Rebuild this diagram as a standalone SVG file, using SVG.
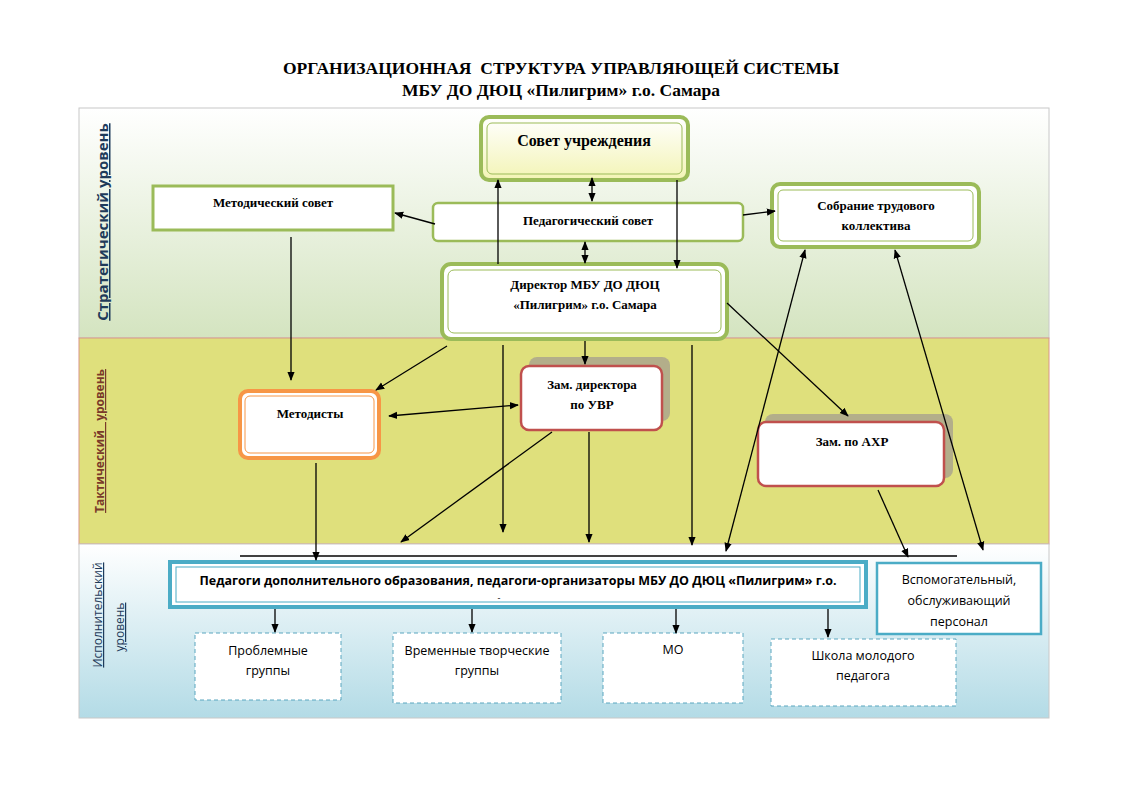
<svg xmlns="http://www.w3.org/2000/svg" width="1123" height="794" viewBox="0 0 1123 794">
<style>
.t{font-family:"Liberation Serif",serif;font-weight:bold;font-size:13px;text-anchor:middle;fill:#000}
.s{font-family:"Open Sans","Liberation Sans",sans-serif;font-size:12.5px;text-anchor:middle;fill:#000}
.c{stroke:#000;stroke-width:1.3;fill:none}
.dash{fill:#fff;stroke:#5aa6bf;stroke-width:1;stroke-dasharray:4 3}
</style>
<defs>
<linearGradient id="gs" x1="0" y1="0" x2="0" y2="1"><stop offset="0" stop-color="#ffffff"/><stop offset="1" stop-color="#d4e4c0"/></linearGradient>
<linearGradient id="ge" x1="0" y1="0" x2="0" y2="1"><stop offset="0" stop-color="#ffffff"/><stop offset="1" stop-color="#b3dbe6"/></linearGradient>
<linearGradient id="gy" x1="0" y1="0" x2="0" y2="1"><stop offset="0" stop-color="#ffffff"/><stop offset="1" stop-color="#f3f4b5"/></linearGradient>
<marker id="a" viewBox="0 0 10 10" refX="9" refY="5" markerWidth="7" markerHeight="7" orient="auto-start-reverse"><path d="M0,1 L10,5 L0,9 z" fill="#000"/></marker>
</defs>
<rect width="1123" height="794" fill="#fff"/>
<text x="561" y="74" font-family="Liberation Serif,serif" font-weight="bold" font-size="17.5" text-anchor="middle" xml:space="preserve">ОРГАНИЗАЦИОННАЯ  СТРУКТУРА УПРАВЛЯЮЩЕЙ СИСТЕМЫ</text>
<text x="561" y="96" font-family="Liberation Serif,serif" font-weight="bold" font-size="17.5" text-anchor="middle">МБУ ДО ДЮЦ «Пилигрим» г.о. Самара</text>
<g id="bands">
<rect x="79" y="108" width="970" height="230" fill="url(#gs)" stroke="#c8c8c8"/>
<rect x="79" y="338" width="970" height="206" fill="#dfe07c" stroke="#d9968a"/>
<rect x="79" y="544" width="970" height="174" fill="url(#ge)" stroke="#c8c8c8"/>
<text transform="translate(108,222) rotate(-90)" font-family="Open Sans,Liberation Sans,sans-serif" font-size="15" font-weight="bold" fill="#1f3b5a" text-anchor="middle" text-decoration="underline">Стратегический уровень</text>
<text transform="translate(104,441) rotate(-90)" font-family="Open Sans,Liberation Sans,sans-serif" font-size="12" font-weight="bold" fill="#7a3a2a" text-anchor="middle" text-decoration="underline" xml:space="preserve">Тактический   уровень</text>
<text transform="translate(102,615) rotate(-90)" font-family="Open Sans,Liberation Sans,sans-serif" font-size="12" fill="#1f3b5a" text-anchor="middle" text-decoration="underline">Исполнительский</text>
<text transform="translate(124,627) rotate(-90)" font-family="Open Sans,Liberation Sans,sans-serif" font-size="12" fill="#1f3b5a" text-anchor="middle" text-decoration="underline">уровень</text>
</g>
<g id="sovet">
<rect x="481" y="117" width="207" height="63" rx="8" fill="url(#gy)" stroke="#9bbb59" stroke-width="4"/>
<rect x="487" y="123" width="195" height="51" rx="5" fill="none" stroke="#9bbb59" stroke-width="1"/>
<text x="584" y="146" class="t" style="font-size:16px">Совет учреждения</text>
</g>
<g id="metsovet">
<rect x="153" y="186" width="240" height="44" fill="#fff" stroke="#9bbb59" stroke-width="3"/>
<text x="273" y="207" class="t">Методический совет</text>
</g>
<g id="pedsovet">
<rect x="433" y="203" width="310" height="38" rx="5" fill="#fff" stroke="#9bbb59" stroke-width="2.5"/>
<text x="588" y="225" class="t">Педагогический совет</text>
</g>
<g id="sobranie">
<rect x="772" y="184" width="207" height="63" rx="8" fill="#fff" stroke="#9bbb59" stroke-width="4"/>
<rect x="778" y="190" width="195" height="51" rx="5" fill="none" stroke="#9bbb59" stroke-width="1"/>
<text x="876" y="210" class="t">Собрание трудового</text>
<text x="876" y="230" class="t">коллектива</text>
</g>
<g id="director">
<rect x="442" y="264" width="285" height="75" rx="9" fill="#fff" stroke="#9bbb59" stroke-width="4"/>
<rect x="448" y="270" width="273" height="63" rx="6" fill="none" stroke="#9bbb59" stroke-width="1"/>
<text x="585" y="289" class="t">Директор МБУ ДО ДЮЦ</text>
<text x="585" y="309" class="t">«Пилигрим» г.о. Самара</text>
</g>
<g id="uvr">
<rect x="529" y="357" width="141" height="64" rx="8" fill="#b3ae8a"/>
<rect x="521" y="366" width="141" height="64" rx="8" fill="#fff" stroke="#c0504d" stroke-width="2.5"/>
<text x="592" y="389" class="t">Зам. директора</text>
<text x="592" y="409" class="t">по УВР</text>
</g>
<g id="metodisty">
<rect x="240" y="391" width="139" height="67" rx="8" fill="#fff" stroke="#f79646" stroke-width="4"/>
<rect x="245" y="396" width="129" height="57" rx="5" fill="none" stroke="#f79646" stroke-width="1"/>
<text x="310" y="418" class="t">Методисты</text>
</g>
<g id="axr">
<rect x="765" y="414" width="188" height="64" rx="8" fill="#b3ae8a"/>
<rect x="758" y="422" width="186" height="64" rx="8" fill="#fff" stroke="#c0504d" stroke-width="2.5"/>
<text x="852" y="446" class="t">Зам. по АХР</text>
</g>
<g id="pedagogi">
<rect x="170" y="562" width="696" height="45" fill="#fff" stroke="#4bacc6" stroke-width="4"/>
<rect x="176" y="567" width="684" height="35" fill="none" stroke="#4bacc6" stroke-width="1"/>
<text x="518" y="585" font-family="Open Sans,Liberation Sans,sans-serif" font-weight="bold" font-size="12.5" text-anchor="middle">Педагоги дополнительного образования, педагоги-организаторы МБУ ДО ДЮЦ «Пилигрим» г.о.</text>
<text x="499" y="601" font-family="Open Sans,Liberation Sans,sans-serif" font-size="9" text-anchor="middle">-</text>
</g>
<g id="vspom">
<rect x="877" y="563" width="164" height="71" fill="#fff" stroke="#4bacc6" stroke-width="2.5"/>
<text x="959" y="584" class="s">Вспомогательный,</text>
<text x="959" y="605" class="s">обслуживающий</text>
<text x="959" y="626" class="s">персонал</text>
</g>
<g id="problem">
<rect x="195" y="633" width="146" height="67" class="dash"/>
<text x="268" y="655" class="s">Проблемные</text>
<text x="268" y="675" class="s">группы</text>
</g>
<g id="vremennye">
<rect x="393" y="633" width="168" height="70" class="dash"/>
<text x="477" y="655" class="s">Временные творческие</text>
<text x="477" y="675" class="s">группы</text>
</g>
<g id="mo">
<rect x="603" y="633" width="140" height="70" class="dash"/>
<text x="673" y="654" class="s">МО</text>
</g>
<g id="shkola">
<rect x="771" y="639" width="185" height="67" class="dash"/>
<text x="863" y="660" class="s">Школа молодого</text>
<text x="863" y="680" class="s">педагога</text>
</g>
<g id="connectors" class="c">
<line x1="240" y1="556" x2="957" y2="556"/>
<line x1="435" y1="224" x2="395" y2="213" marker-end="url(#a)"/>
<line x1="743" y1="215" x2="775" y2="211" marker-end="url(#a)"/>
<line x1="592" y1="178" x2="592" y2="201" marker-start="url(#a)" marker-end="url(#a)"/>
<line x1="585" y1="242" x2="585" y2="263" marker-start="url(#a)" marker-end="url(#a)"/>
<line x1="498" y1="264" x2="498" y2="180" marker-end="url(#a)"/>
<line x1="677" y1="180" x2="677" y2="268" marker-end="url(#a)"/>
<line x1="291" y1="237" x2="291" y2="380" marker-end="url(#a)"/>
<line x1="447" y1="346" x2="376" y2="390" marker-end="url(#a)"/>
<line x1="389" y1="416" x2="518" y2="405" marker-start="url(#a)" marker-end="url(#a)"/>
<line x1="585" y1="341" x2="585" y2="364" marker-end="url(#a)"/>
<line x1="503" y1="345" x2="503" y2="532" marker-end="url(#a)"/>
<line x1="692" y1="345" x2="692" y2="545" marker-end="url(#a)"/>
<line x1="589" y1="432" x2="589" y2="542" marker-end="url(#a)"/>
<line x1="552" y1="432" x2="401" y2="542" marker-end="url(#a)"/>
<line x1="316" y1="463" x2="316" y2="560" marker-end="url(#a)"/>
<line x1="727" y1="303" x2="848" y2="416" marker-end="url(#a)"/>
<line x1="805" y1="250" x2="726" y2="551" marker-start="url(#a)" marker-end="url(#a)"/>
<line x1="895" y1="250" x2="983" y2="550" marker-start="url(#a)" marker-end="url(#a)"/>
<line x1="878" y1="490" x2="908" y2="557" marker-end="url(#a)"/>
<line x1="275" y1="609" x2="275" y2="632" marker-end="url(#a)"/>
<line x1="472" y1="609" x2="472" y2="632" marker-end="url(#a)"/>
<line x1="676" y1="609" x2="676" y2="633" marker-end="url(#a)"/>
<line x1="828" y1="609" x2="828" y2="637" marker-end="url(#a)"/>
</g>
</svg>
